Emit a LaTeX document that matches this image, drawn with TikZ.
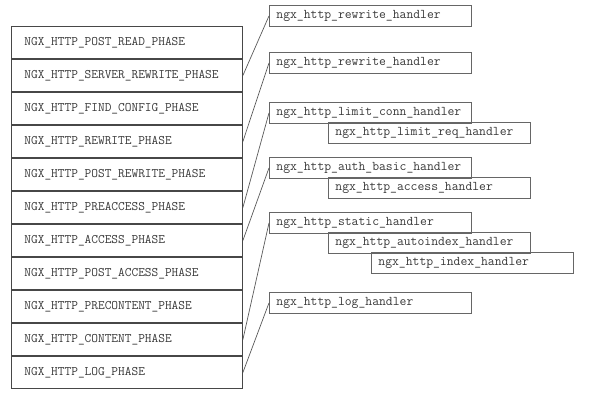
\documentclass[tikz,border=0pt]{standalone}
\usepackage{fontspec}
\begin{document}
\begin{tikzpicture}[x=1pt,y=-1pt,
  phasebox/.style={draw=black!72, line width=0.9pt, anchor=north west, minimum width=231pt, minimum height=32pt,
    inner xsep=13pt, inner ysep=0pt, text width=205pt, align=left, font=\ttfamily\fontsize{13}{14}\selectfont, text=black!78},
  handbox/.style={draw=black!60, line width=0.8pt, anchor=north west, minimum width=202pt, minimum height=21pt,
    inner xsep=7pt, inner ysep=0pt, text width=188pt, align=left, font=\ttfamily\fontsize{13.3}{14}\selectfont, text=black!78},
  link/.style={draw=black!65, line width=0.7pt}]
\useasboundingbox (0,0) rectangle (613,400);
% phases
\node[phasebox] (p1) at (11,26) {NGX\_HTTP\_POST\_READ\_PHASE};
\node[phasebox] (p2) at (11,59) {NGX\_HTTP\_SERVER\_REWRITE\_PHASE};
\node[phasebox] (p3) at (11,92) {NGX\_HTTP\_FIND\_CONFIG\_PHASE};
\node[phasebox] (p4) at (11,125) {NGX\_HTTP\_REWRITE\_PHASE};
\node[phasebox] (p5) at (11,158) {NGX\_HTTP\_POST\_REWRITE\_PHASE};
\node[phasebox] (p6) at (11,191) {NGX\_HTTP\_PREACCESS\_PHASE};
\node[phasebox] (p7) at (11,224) {NGX\_HTTP\_ACCESS\_PHASE};
\node[phasebox] (p8) at (11,257) {NGX\_HTTP\_POST\_ACCESS\_PHASE};
\node[phasebox] (p9) at (11,290) {NGX\_HTTP\_PRECONTENT\_PHASE};
\node[phasebox] (p10) at (11,323) {NGX\_HTTP\_CONTENT\_PHASE};
\node[phasebox] (p11) at (11,356) {NGX\_HTTP\_LOG\_PHASE};
% handlers
\node[handbox] (h1) at (269,5) {ngx\_http\_rewrite\_handler};
\node[handbox] (h2) at (269,52) {ngx\_http\_rewrite\_handler};
\node[handbox] (h3) at (269,102) {ngx\_http\_limit\_conn\_handler};
\node[handbox] (h3b) at (328,122) {ngx\_http\_limit\_req\_handler};
\node[handbox] (h4) at (269,157) {ngx\_http\_auth\_basic\_handler};
\node[handbox] (h4b) at (328,177) {ngx\_http\_access\_handler};
\node[handbox] (h5) at (269,212) {ngx\_http\_static\_handler};
\node[handbox] (h5b) at (328,232) {ngx\_http\_autoindex\_handler};
\node[handbox] (h5c) at (371,252) {ngx\_http\_index\_handler};
\node[handbox] (h6) at (269,292) {ngx\_http\_log\_handler};
% links
\draw[link] (p2.east) -- (h1.west);
\draw[link] (p4.east) -- (h2.west);
\draw[link] (p6.east) -- (h3.west);
\draw[link] (p7.east) -- (h4.west);
\draw[link] (p10.east) -- (h5.west);
\draw[link] (p11.east) -- (h6.west);
\end{tikzpicture}
\end{document}
